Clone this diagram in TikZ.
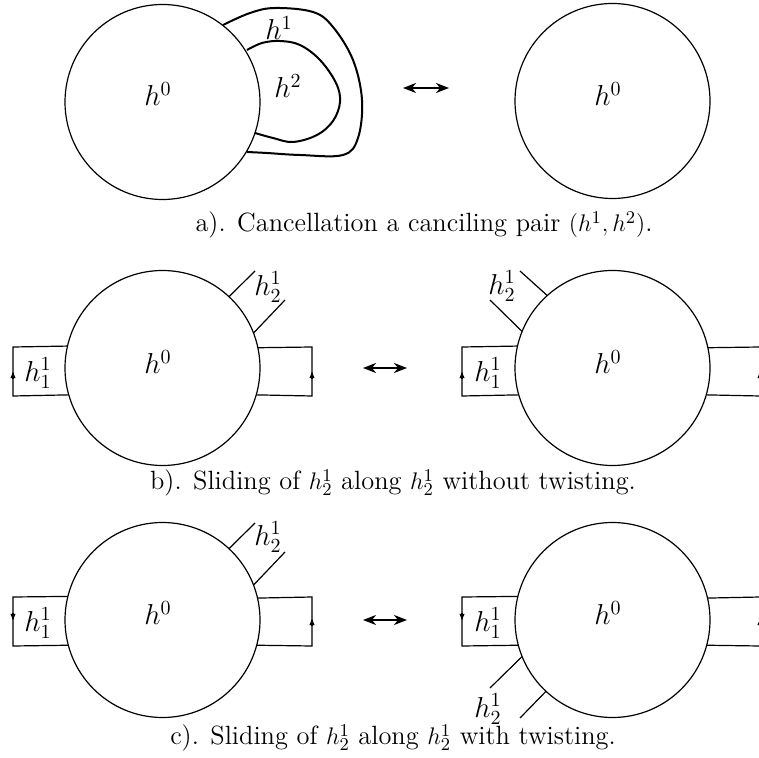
\documentclass[tikz,border=0pt]{standalone}
\usetikzlibrary{arrows.meta}
\begin{document}
\begin{tikzpicture}[x=0.5pt,y=-0.5pt,
  ball/.style={draw,circle,minimum size=97.5pt,inner sep=0pt,outer sep=0pt,line width=0.6pt},
  band/.style={line width=0.6pt},
  blob/.style={line width=1pt},
  lab/.style={inner sep=0pt,font=\fontsize{14.5}{17}\selectfont},
  captext/.style={inner sep=0pt,font=\fontsize{13.2}{15}\selectfont},
  dbl/.style={line width=0.9pt,{Stealth[length=6.5pt,width=5pt,inset=2pt]}-{Stealth[length=6.5pt,width=5pt,inset=2pt]}},
  tip/.style={-{Latex[length=3.6pt,width=2.8pt]},line width=0.6pt}]
\useasboundingbox (0,0) rectangle (759,758);
% ---------- a ----------
\node[ball] (A1) at (162.5,102) {};
\node[ball] (A2) at (612.5,101) {};
\node[lab] (a0) at (158,94) {$h^0$};
\node[lab] (a0r) at (608,94) {$h^0$};
\draw[blob] plot[smooth,tension=0.6] coordinates {(223,25) (250,13) (275,8) (313,12) (333,27) (353,60) (362,100) (358,138) (343,155) (300,155) (267,153) (247,152)};
\draw[blob] plot[smooth,tension=0.6] coordinates {(247,50) (262,43) (280,41) (300,45) (320,60) (336,83) (340,102) (333,121) (317,135) (293,142) (273,138) (255,133)};
\node[lab] (a1) at (279,28) {$h^1$};
\node[lab] (a2) at (288,86) {$h^2$};
\coordinate (aL) at (403,88);
\coordinate (aR) at (449,88);
\draw[dbl] (aL) -- (aR);
\node[captext] (capa) at (424,225) {a). Cancellation a canciling pair $(h^1,h^2)$.};
% ---------- b ----------
\node[ball] (B1) at (162.5,368) {};
\node[ball] (B2) at (612.5,368) {};
\node[lab] (b0) at (158,362) {$h^0$};
\node[lab] (b0r) at (608,362) {$h^0$};
\draw[band] (B1.167.56) -- (13,347) -- (13,396) -- (B1.196.69);
\draw[band] (B1.12.44) -- (312,347) -- (312,396) -- (B1.-16.69);
\draw[band] (B2.167.56) -- (462,347) -- (462,396) -- (B2.196.69);
\draw[band] (B2.12.44) -- (760,347) -- (760,396) -- (B2.-16.69);
\draw[tip] (13,379) -- (13,371);
\draw[tip] (312,379) -- (312,371);
\draw[tip] (462,379) -- (462,371);
\draw[tip] (760,379) -- (760,371);
\draw[band] (B1.47.2) -- (255,271);
\draw[band] (B1.21.7) -- (285,300);
\draw[band] (B2.132.8) -- (520,271);
\draw[band] (B2.158.3) -- (490,300);
\node[lab] (b11) at (38,373) {$h_1^1$};
\node[lab] (b11r) at (488,373) {$h_1^1$};
\node[lab] (b21) at (268,287) {$h_2^1$};
\node[lab] (b21r) at (502,286) {$h_2^1$};
\coordinate (bL) at (363,368);
\coordinate (bR) at (407,368);
\draw[dbl] (bL) -- (bR);
\node[captext] (capb) at (393,483) {b). Sliding of $h_2^1$ along $h_2^1$ without twisting.};
% ---------- c ----------
\node[ball] (C1) at (162.5,620) {};
\node[ball] (C2) at (612.5,620) {};
\node[lab] (c0) at (158,613) {$h^0$};
\node[lab] (c0r) at (608,613) {$h^0$};
\draw[band] (C1.166.36) -- (13,597) -- (13,646) -- (C1.195.47);
\draw[band] (C1.13.64) -- (312,597) -- (312,646) -- (C1.-15.47);
\draw[band] (C2.166.36) -- (462,597) -- (462,646) -- (C2.195.47);
\draw[band] (C2.13.64) -- (760,597) -- (760,646) -- (C2.-15.47);
\draw[tip] (13,613) -- (13,621);
\draw[tip] (312,626) -- (312,618);
\draw[tip] (462,613) -- (462,621);
\draw[tip] (760,626) -- (760,618);
\draw[band] (C1.47.2) -- (255,523);
\draw[band] (C1.21.7) -- (285,552);
\draw[band] (C2.202.8) -- (490,688);
\draw[band] (C2.227.3) -- (520,718);
\node[lab] (c11) at (38,623) {$h_1^1$};
\node[lab] (c11r) at (488,623) {$h_1^1$};
\node[lab] (c21) at (268,537) {$h_2^1$};
\node[lab] (c21r) at (488,709) {$h_2^1$};
\coordinate (cL) at (363,620);
\coordinate (cR) at (407,620);
\draw[dbl] (cL) -- (cR);
\node[captext] (capc) at (393,738) {c). Sliding of $h_2^1$ along $h_2^1$ with twisting.};
\end{tikzpicture}
\end{document}
